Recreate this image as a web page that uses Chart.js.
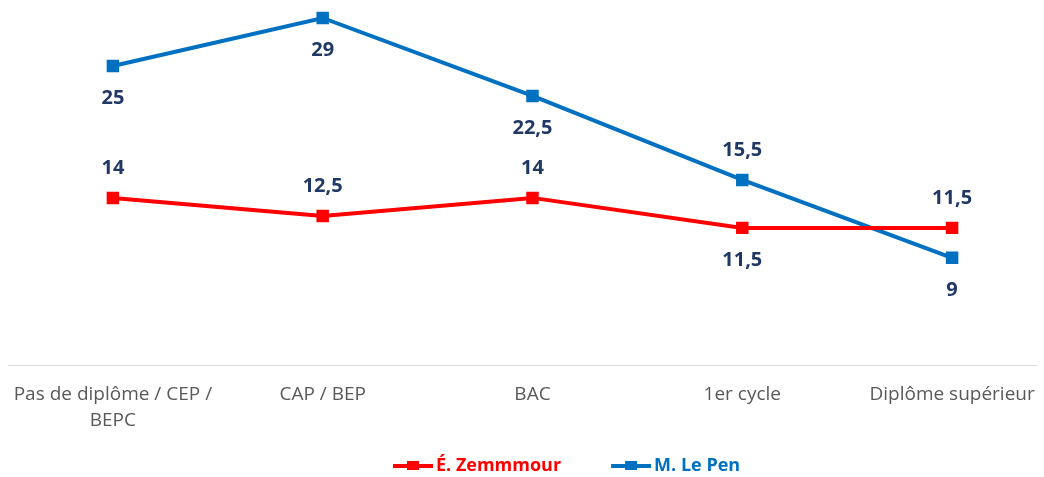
<!DOCTYPE html>
<html>
<head>
<meta charset="utf-8">
<script src="https://cdn.jsdelivr.net/npm/chart.js@4/dist/chart.umd.min.js"></script>
<style>
  html, body { margin: 0; padding: 0; background: #fff; }
  #wrap { width: 1044px; height: 477px; }
</style>
</head>
<body>
<div id="wrap"><canvas id="chart" width="1044" height="477"></canvas></div>
<script>
const categories = [["Pas de diplôme / CEP /", "BEPC"], "CAP / BEP", "BAC", "1er cycle", "Diplôme supérieur"];
const zemmourValues = [14, 12.5, 14, 11.5, 11.5];
const lepenValues = [25, 29, 22.5, 15.5, 9];
// where the value label goes for each point
const zemmourLabelPos = ["above", "above", "above", "below", "above"];
const lepenLabelPos = ["below", "below", "below", "above", "below"];

const RED = "#ff0000";
const BLUE = "#0070c0";
const LABEL_COLOR = "#1f3864";

const valueLabels = {
  id: "valueLabels",
  afterDatasetsDraw(chart) {
    const ctx = chart.ctx;
    ctx.save();
    ctx.font = "bold 20px 'Open Sans', sans-serif";
    ctx.fillStyle = LABEL_COLOR;
    ctx.textAlign = "center";
    ctx.textBaseline = "middle";
    chart.data.datasets.forEach((ds, i) => {
      const meta = chart.getDatasetMeta(i);
      meta.data.forEach((pt, j) => {
        const below = ds.labelPos[j] === "below";
        const txt = String(ds.data[j].y).replace(".", ",");
        ctx.fillText(txt, pt.x, pt.y + (below ? 32 : -30));
      });
    });
    ctx.restore();
  }
};

// bottom legend: line + square marker, bold text in the series colour
const bottomLegend = {
  id: "bottomLegend",
  afterDraw(chart) {
    const ctx = chart.ctx;
    ctx.save();
    ctx.font = "bold 18px 'Open Sans', sans-serif";
    ctx.textBaseline = "middle";
    ctx.textAlign = "left";
    const y = 466;
    let x = 393;
    chart.data.datasets.forEach(ds => {
      ctx.fillStyle = ds.borderColor;
      ctx.fillRect(x, y - 2, 40, 4);
      ctx.fillRect(x + 14, y - 5, 12, 9);
      x += 43;
      ctx.fillText(ds.label, x, y);
      x += ctx.measureText(ds.label).width + 50;
    });
    ctx.restore();
  }
};

const toPoints = arr => arr.map((v, i) => ({ x: i, y: v }));

new Chart(document.getElementById("chart"), {
  type: "line",
  data: {
    datasets: [
      {
        label: "É. Zemmmour",
        data: toPoints(zemmourValues),
        labelPos: zemmourLabelPos,
        borderColor: RED,
        backgroundColor: RED,
        borderWidth: 4,
        pointStyle: "rect",
        pointRadius: 6,
        pointHoverRadius: 6,
        tension: 0,
        clip: false
      },
      {
        label: "M. Le Pen",
        data: toPoints(lepenValues),
        labelPos: lepenLabelPos,
        borderColor: BLUE,
        backgroundColor: BLUE,
        borderWidth: 4,
        pointStyle: "rect",
        pointRadius: 6,
        pointHoverRadius: 6,
        tension: 0,
        clip: false
      }
    ]
  },
  options: {
    responsive: false,
    animation: false,
    layout: { autoPadding: false, padding: { left: 8, right: 8, top: 6, bottom: 36 } },
    scales: {
      x: {
        type: "linear",
        min: -0.5,
        max: 4.4,
        afterBuildTicks: s => { s.ticks = categories.map((_, i) => ({ value: i })); },
        ticks: {
          callback: v => categories[v],
          color: "#595959",
          font: { family: "'Open Sans', sans-serif", size: 19, lineHeight: 1.4 },
          padding: 7,
          maxRotation: 0,
          autoSkip: false
        },
        grid: { display: false },
        border: { color: "#d9d9d9", width: 1 }
      },
      y: {
        display: false,
        min: 0,
        max: 30
      }
    },
    plugins: {
      tooltip: { enabled: false },
      legend: { display: false }
    }
  },
  plugins: [valueLabels, bottomLegend]
});
</script>
</body>
</html>
